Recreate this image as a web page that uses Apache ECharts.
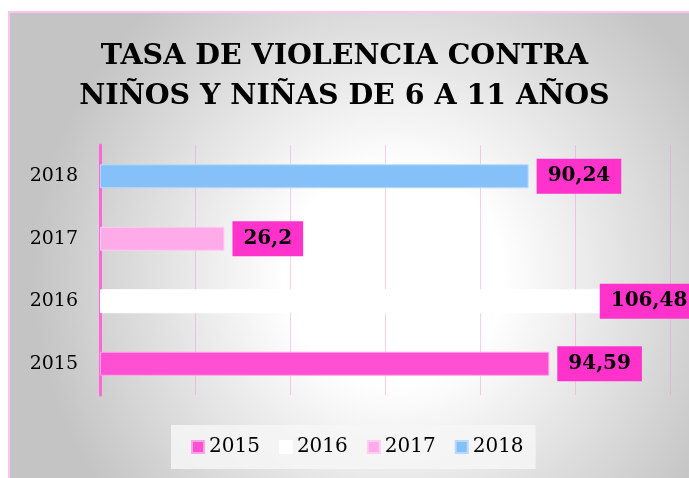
<!DOCTYPE html>
<html>
<head>
<meta charset="utf-8">
<script src="https://cdn.jsdelivr.net/npm/echarts@6/dist/echarts.min.js"></script>
<style>
html,body{margin:0;padding:0;background:#fff;}
#c{width:689px;height:478px;}
</style>
</head>
<body>
<div id="c"></div>
<script>
var titleText = 'TASA DE VIOLENCIA CONTRA\nNIÑOS Y NIÑAS DE 6 A 11 AÑOS';
var categories = ['2015', '2016', '2017', '2018'];
var values = [94.59, 106.48, 26.2, 90.24];
var xTicks = [0, 20, 40, 60, 80, 100, 120];

var barColors = ['#FF4FD3', '#FFFFFF', '#FFAAE9', '#85C0F9'];
var barBorders = ['#FFA3E6', '#FFFFFF', '#FFCCF2', '#B8DAFA'];
var serif = 'DejaVu Serif';

var series = categories.map(function (cat, i) {
  var d = categories.map(function (c, j) { return j === i ? values[i] : '-'; });
  return {
    name: cat,
    type: 'bar',
    stack: 'total',
    barWidth: 24,
    data: d,
    itemStyle: { color: barColors[i], borderColor: barBorders[i], borderWidth: 1 },
    label: {
      show: true,
      position: 'right',
      distance: i === 1 ? -6 : 8,
      formatter: function (p) { return String(p.value).replace('.', ','); },
      backgroundColor: '#FF33CC',
      padding: [7, 11, 7, 11],
      lineHeight: 21,
      fontFamily: serif,
      fontWeight: 'bold',
      fontSize: 20,
      color: '#000'
    }
  };
});

var chart = echarts.init(document.getElementById('c'));
chart.setOption({
  animation: false,
  graphic: [{
    type: 'rect',
    z: -100,
    silent: true,
    shape: { x: 9, y: 12, width: 700, height: 480 },
    style: {
      fill: {
        type: 'radial', x: 0.55, y: 0.55, r: 0.75,
        colorStops: [
          { offset: 0, color: '#ffffff' },
          { offset: 0.3, color: '#ffffff' },
          { offset: 1, color: '#c4c4c4' }
        ]
      },
      stroke: '#FFC4EE',
      lineWidth: 2
    }
  }],
  title: {
    text: titleText,
    left: 'center',
    top: 37,
    padding: [0, 0, 0, 24],
    textStyle: {
      fontFamily: serif,
      fontWeight: 'bold',
      fontSize: 28.5,
      lineHeight: 40,
      color: '#000'
    }
  },
  legend: {
    data: categories,
    left: 171,
    top: 425,
    padding: [12, 12, 12, 20],
    backgroundColor: 'rgba(246,246,246,0.85)',
    icon: 'rect',
    itemWidth: 12,
    itemHeight: 12,
    itemGap: 19,
    textStyle: { fontFamily: serif, fontSize: 20, color: '#000' }
  },
  grid: { left: 100, right: 19, top: 145, bottom: 83, containLabel: false },
  xAxis: {
    type: 'value',
    min: xTicks[0],
    max: xTicks[xTicks.length - 1],
    interval: xTicks[1] - xTicks[0],
    axisLabel: { show: false },
    axisLine: { show: false },
    axisTick: { show: false },
    splitLine: { lineStyle: { color: 'rgba(235,150,210,0.45)', width: 1 } }
  },
  yAxis: {
    type: 'category',
    data: categories,
    axisLine: { lineStyle: { color: '#FF66D6', width: 3 } },
    axisTick: { show: false },
    axisLabel: { fontFamily: serif, fontSize: 19, color: '#000', margin: 22 }
  },
  series: series
});
</script>
</body>
</html>
